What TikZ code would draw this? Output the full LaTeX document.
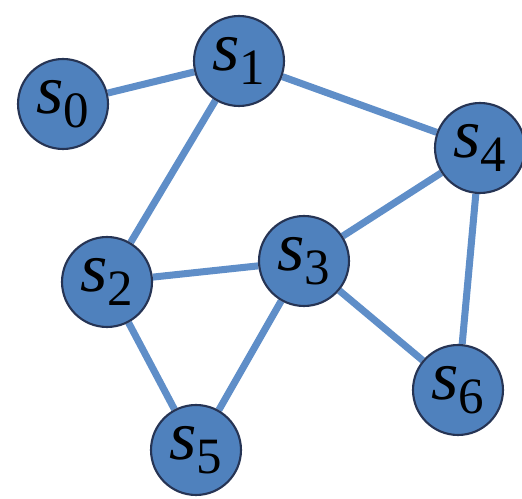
\documentclass[tikz,border=0pt]{standalone}
\usepackage{fontspec}
\setmainfont{Liberation Serif}
\usepackage{tikz}
\usetikzlibrary{positioning, calc, backgrounds}

\definecolor{nodefill}{RGB}{79,129,189}
\definecolor{nodeline}{RGB}{38,52,84}
\definecolor{edgeblue}{RGB}{95,142,200}

\newcommand{\sname}[1]{\textit{s}\raisebox{-0.45ex}{\fontsize{29}{29}\selectfont\upshape #1}}

\begin{document}
\begin{tikzpicture}[x=0.02cm, y=-0.02cm,
  state/.style={circle, fill=nodefill, draw=nodeline, line width=1.2pt,
    minimum size=1.8cm, inner sep=0pt, font=\fontsize{40}{40}\selectfont},
  link/.style={edgeblue, line width=4pt}]
\useasboundingbox (0,0) rectangle (522,499);

\node[state] (s0) at (63,104) {\sname{0}};
\node[state] (s1) at (239,61) {\sname{1}};
\node[state] (s4) at (480,148) {\sname{4}};
\node[state] (s2) at (107,282) {\sname{2}};
\node[state] (s3) at (304,261) {\sname{3}};
\node[state] (s6) at (458,390) {\sname{6}};
\node[state] (s5) at (196,450) {\sname{5}};

% edges go behind the states
\begin{scope}[on background layer]
\draw[link] (s0) -- (s1);
\draw[link] (s1) -- (s4);
\draw[link] (s1) -- (s2);
\draw[link] (s4) -- (s3);
\draw[link] (s4) -- (s6);
\draw[link] (s2) -- (s3);
\draw[link] (s3) -- (s5);
\draw[link] (s3) -- (s6);
\draw[link] (s2) -- (s5);
\end{scope}
\end{tikzpicture}
\end{document}
